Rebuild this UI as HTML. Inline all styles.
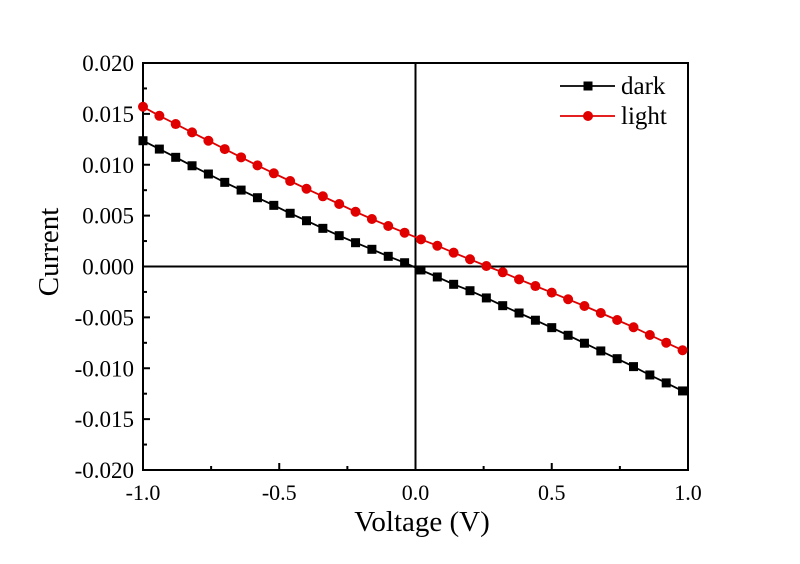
<!DOCTYPE html>
<html><head><meta charset="utf-8"><style>
body{margin:0;background:#fff;}
svg{display:block;font-family:"Liberation Serif",serif;}
</style></head><body>
<svg id="chart" width="800" height="564" viewBox="0 0 800 564">
<rect width="800" height="564" fill="#fff"/>
<g id="axes"></g>
<g id="series"></g>
<g id="legend"></g>
</svg>
<script>
const voltages = [];
const stepCount = 34;
const darkCurrent = [0.01236,0.01154,0.01073,0.00990,0.00909,0.00827,0.00751,0.00676,0.00601,0.00523,0.00450,0.00375,0.00303,0.00234,0.00169,0.00100,0.00037,-0.00034,-0.00103,-0.00175,-0.00238,-0.00309,-0.00385,-0.00457,-0.00528,-0.00601,-0.00676,-0.00754,-0.00830,-0.00906,-0.00984,-0.01066,-0.01144,-0.01223];
const lightCurrent = [0.01570,0.01481,0.01400,0.01318,0.01236,0.01154,0.01073,0.00994,0.00916,0.00840,0.00764,0.00690,0.00614,0.00538,0.00467,0.00398,0.00332,0.00267,0.00204,0.00136,0.00071,0.00005,-0.00057,-0.00126,-0.00192,-0.00257,-0.00322,-0.00388,-0.00457,-0.00526,-0.00597,-0.00673,-0.00749,-0.00823];
const xTicks = [-1.0,-0.5,0.0,0.5,1.0];
const xTickLabels = ["-1.0","-0.5","0.0","0.5","1.0"];
const yTicks = [0.020,0.015,0.010,0.005,0.000,-0.005,-0.010,-0.015,-0.020];
const yTickLabels = ["0.020","0.015","0.010","0.005","0.000","-0.005","-0.010","-0.015","-0.020"];
for(let i=0;i<stepCount;i++) voltages.push(-1+0.06*i);

const L=143,R=688,T=63,B=470;
const xS=v=>L+(v+1)/2*(R-L);
const yS=v=>T+(0.02-v)/0.04*(B-T);
const NS="http://www.w3.org/2000/svg";
function mk(tag,attrs,parent){const e=document.createElementNS(NS,tag);for(const k in attrs)e.setAttribute(k,attrs[k]);parent.appendChild(e);return e;}
const ax=document.getElementById('axes');

let e=mk('rect',{x:L,y:T,width:R-L,height:B-T,fill:'none',stroke:'#000','stroke-width':2},ax);


e=mk('line',{x1:L,x2:R,y1:yS(0),y2:yS(0),stroke:'#000','stroke-width':2},ax);


e=mk('line',{x1:xS(0),x2:xS(0),y1:T,y2:B,stroke:'#000','stroke-width':2},ax);



xTicks.forEach((v,i)=>{
  const x=xS(v);
  let t=mk('line',{x1:x,x2:x,y1:B,y2:B-7,stroke:'#000','stroke-width':2},ax);
  
  
  if(i<xTicks.length-1){const xm=xS(v+0.25);
    let m=mk('line',{x1:xm,x2:xm,y1:B,y2:B-4,stroke:'#000','stroke-width':2},ax);
    
    }
  let lb=mk('text',{x:x,y:500,'text-anchor':'middle','font-size':22},ax);
  lb.textContent=xTickLabels[i];
  
  
});
yTicks.forEach((v,i)=>{
  const y=yS(v);
  let t=mk('line',{x1:L,x2:L+7,y1:y,y2:y,stroke:'#000','stroke-width':2},ax);
  
  
  if(i<yTicks.length-1){const ym=yS(v-0.0025);
    let m=mk('line',{x1:L,x2:L+4,y1:ym,y2:ym,stroke:'#000','stroke-width':2},ax);
    
    }
  let lb=mk('text',{x:134,y:y+8,'text-anchor':'end','font-size':23},ax);
  lb.textContent=yTickLabels[i];
  
  
});
let xt=mk('text',{x:422,y:531,'text-anchor':'middle','font-size':29},ax);
xt.textContent='Voltage (V)';


let yt=mk('text',{x:0,y:0,'text-anchor':'middle','font-size':29,transform:'translate(58,252) rotate(-90)'},ax);
yt.textContent='Current';



const sg=document.getElementById('series');
function drawSeries(vals,color,shape,name){
  const g=mk('g',{},sg);
  
  
  const pts=vals.map((v,i)=>xS(voltages[i]).toFixed(1)+','+yS(v).toFixed(1)).join(' ');
  const pl=mk('polyline',{points:pts,fill:'none',stroke:color,'stroke-width':1.8},g);
  
  
  vals.forEach((v,i)=>{
    const x=xS(voltages[i]),y=yS(v);
    let m;
    if(shape==='sq') m=mk('rect',{x:x-4.5,y:y-4.5,width:9,height:9,fill:color},g);
    else m=mk('circle',{cx:x,cy:y,r:5,fill:color},g);
    
    
  });
}
drawSeries(darkCurrent,'#000','sq','dark');
drawSeries(lightCurrent,'#e00000','ci','light');

const lg=document.getElementById('legend');
[['dark','#000','sq',86],['light','#e00000','ci',116]].forEach(([n,c,s,y])=>{
  const g=mk('g',{},lg);
  
  
  mk('line',{x1:560,x2:615,y1:y,y2:y,stroke:c,'stroke-width':1.8},g);
  if(s==='sq') mk('rect',{x:583.5,y:y-4.5,width:9,height:9,fill:c},g);
  else mk('circle',{cx:588,cy:y,r:5,fill:c},g);
  const t=mk('text',{x:621,y:y+8,'font-size':25},g);
  t.textContent=n;
});
</script>
</body></html>
